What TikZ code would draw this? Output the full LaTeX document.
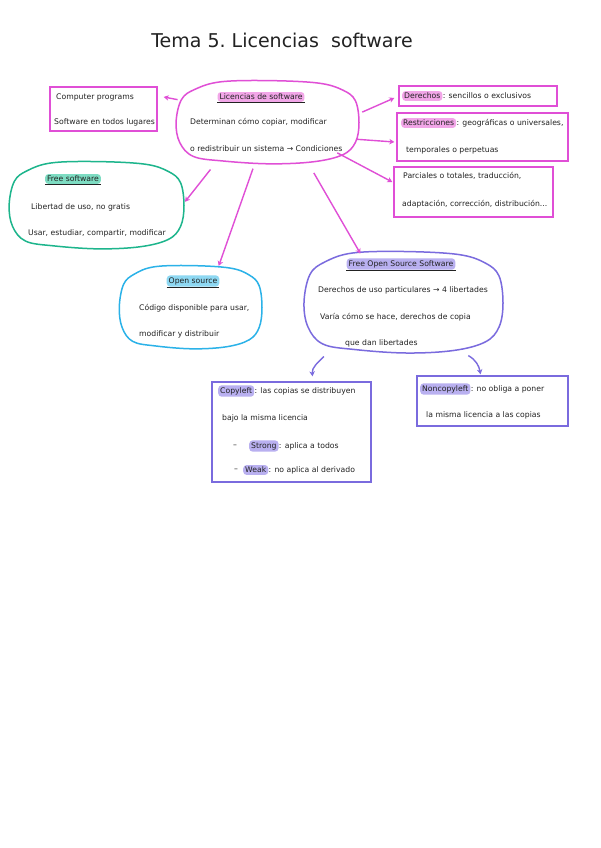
\documentclass[tikz,border=0pt]{standalone}
\usepackage{fontspec}
\setmainfont{DejaVu Sans}
\usetikzlibrary{arrows.meta,shapes.geometric,calc}
\definecolor{pinkln}{HTML}{E04FD6}
\definecolor{pinkhl}{HTML}{F2A6E8}
\definecolor{greenln}{HTML}{1DB58C}
\definecolor{greenhl}{HTML}{7DDCC2}
\definecolor{blueln}{HTML}{2BB2E8}
\definecolor{bluehl}{HTML}{8ED8F2}
\definecolor{purpln}{HTML}{7A6BDE}
\definecolor{purphl}{HTML}{B9B0F0}
\definecolor{ink}{HTML}{222222}
\newcommand\blobline[5]{%
  \begin{scope}[shift={(#1,#2)},x=#3pt,y=-#4pt]
    \draw[draw=#5,line width=1.5pt,line join=round] plot[smooth cycle,tension=0.6] coordinates {(1.00,0.02) (0.96,0.50) (0.82,0.80) (0.50,0.97) (0.02,1.02) (-0.50,0.95) (-0.82,0.84) (-0.97,0.50) (-1.01,0.00) (-0.95,-0.55) (-0.80,-0.80) (-0.52,-0.98) (0.00,-1.01) (0.55,-0.95) (0.82,-0.78) (0.96,-0.52)};
  \end{scope}}
\tikzset{
  txt/.style={anchor=west,inner sep=0pt,font=\fontsize{7.7}{9}\selectfont,text=ink},
  hl/.style={anchor=west,fill=#1,rounded corners=3.5pt,inner xsep=2pt,inner ysep=2pt,font=\fontsize{7.7}{9}\selectfont,text=ink},
  boxln/.style={draw=#1,line width=1.4pt,inner sep=0pt},
  blobnode/.style={ellipse,inner sep=0pt},
  link/.style={draw=#1,line width=1.4pt,-{Stealth[length=5pt,width=5.5pt]}},
  uline/.style={draw=ink,line width=0.6pt},
}
\begin{document}
\begin{tikzpicture}[x=1pt,y=-1pt]
\fill[white] (0,0) rectangle (600,848);
\useasboundingbox (0,0) rectangle (600,848);

\node[font=\fontsize{19}{22}\selectfont,text=ink] (title) at (282,40) {Tema 5.\ Licencias\ \ software};

% ---- central pink cloud
\blobline{268}{122}{91}{41}{pinkln}
\node[blobnode,minimum width=193pt,minimum height=88pt] (c1) at (268,122) {};
\node[hl=pinkhl,anchor=center] (c1h) at (261,97) {Licencias de software};
\draw[uline] (c1h.south west) -- (c1h.south east);
\node[txt] (c1a) at (190,122) {Determinan cómo copiar, modificar};
\node[txt] (c1b) at (190,149) {o redistribuir un sistema → Condiciones};

% ---- box computer programs
\node[boxln=pinkln,minimum width=107pt,minimum height=44pt] (b1) at (103.5,109) {};
\node[txt] (b1a) at (56,97) {Computer programs};
\node[txt] (b1b) at (54,122) {Software en todos lugares};

% ---- Derechos
\node[boxln=pinkln,minimum width=158pt,minimum height=20pt] (d) at (478,96) {};
\node[hl=pinkhl] (dh) at (402,96) {Derechos};
\node[txt] (dt) at (dh.east) {: sencillos o exclusivos};

% ---- Restricciones
\node[boxln=pinkln,minimum width=171pt,minimum height=48pt] (r) at (482.5,137) {};
\node[hl=pinkhl] (rh) at (401,123) {Restricciones};
\node[txt] (rt) at (rh.east) {: geográficas o universales,};
\node[txt] (rb) at (406,150) {temporales o perpetuas};

% ---- Parciales
\node[boxln=pinkln,minimum width=159pt,minimum height=50pt] (p) at (473.5,192) {};
\node[txt] (pa) at (403,176) {Parciales o totales, traducción,};
\node[txt] (pb) at (402,204) {adaptación, corrección, distribución...};

% ---- green cloud
\blobline{97}{205}{87}{43}{greenln}
\node[blobnode,minimum width=184pt,minimum height=92pt] (g) at (97,205) {};
\node[hl=greenhl,anchor=center] (gh) at (73,179) {Free software};
\draw[uline] (gh.south west) -- (gh.south east);
\node[txt] (ga) at (31,207) {Libertad de uso, no gratis};
\node[txt] (gb) at (28,233) {Usar, estudiar, compartir, modificar};

% ---- blue cloud
\blobline{191}{307}{71}{41}{blueln}
\node[blobnode,minimum width=150pt,minimum height=88pt] (o) at (191,307) {};
\node[hl=bluehl,anchor=center] (oh) at (193,281) {Open source};
\draw[uline] (oh.south west) -- (oh.south east);
\node[txt] (oa) at (139,308) {Código disponible para usar,};
\node[txt] (ob) at (139,334) {modificar y distribuir};

% ---- purple cloud FOSS
\blobline{404}{302}{99}{50}{purpln}
\node[blobnode,minimum width=210pt,minimum height=106pt] (f) at (404,302) {};
\node[hl=purphl,anchor=center] (fh) at (401,264) {Free Open Source Software};
\draw[uline] (fh.south west) -- (fh.south east);
\node[txt] (fa) at (318,290) {Derechos de uso particulares → 4 libertades};
\node[txt] (fb) at (320,317) {Varía cómo se hace, derechos de copia};
\node[txt] (fc) at (345,343) {que dan libertades};

% ---- Copyleft box
\node[boxln=purpln,minimum width=159pt,minimum height=100pt] (cl) at (291.5,432) {};
\node[hl=purphl] (clh) at (218,391) {Copyleft};
\node[txt] (clt) at (clh.east) {: las copias se distribuyen};
\node[txt] (clb) at (222,418) {bajo la misma licencia};
\node[txt] (cld1) at (233,446) {–};
\node[hl=purphl] (clsh) at (249,446) {Strong};
\node[txt] (clst) at (clsh.east) {: aplica a todos};
\node[txt] (cld2) at (234,470) {–};
\node[hl=purphl] (clwh) at (243,470) {Weak};
\node[txt] (clwt) at (clwh.east) {: no aplica al derivado};

% ---- Noncopyleft box
\node[boxln=purpln,minimum width=151pt,minimum height=50pt] (nc) at (492.5,401) {};
\node[hl=purphl] (nch) at (420,389) {Noncopyleft};
\node[txt] (nct) at (nch.east) {: no obliga a poner};
\node[txt] (ncb) at (426,415) {la misma licencia a las copias};

% ---- connectors
\draw[link=pinkln] ([xshift=-7pt]c1.165.7) -- ([xshift=6pt,yshift=12pt]b1.east);
\draw[link=pinkln] (c1.6.6) -- ([xshift=-4pt,yshift=-2pt]d.west);
\draw[link=pinkln] (c1.-11.3) -- ([xshift=-2pt,yshift=-5pt]r.west);
\draw[link=pinkln] (c1.-24.5) -- ([xshift=-1pt,yshift=10pt]p.west);
\draw[link=pinkln] ([xshift=-10pt,yshift=-9pt]c1.219) -- ([xshift=-4pt]g.2);
\draw[link=pinkln] ([yshift=-3pt]c1.251) -- (o.56);
\draw[link=pinkln] ([xshift=9pt,yshift=-10pt]c1.-48.8) -- (f.132);
\draw[link=purpln] ([xshift=-17pt,yshift=-12pt]f.214.8) to[out=225,in=95] ([xshift=21pt,yshift=5pt]cl.north);
\draw[link=purpln] ([xshift=10pt,yshift=-8pt]f.-40.2) to[out=-30,in=100] ([xshift=-12pt,yshift=1pt]nc.north);
\end{tikzpicture}
\end{document}
